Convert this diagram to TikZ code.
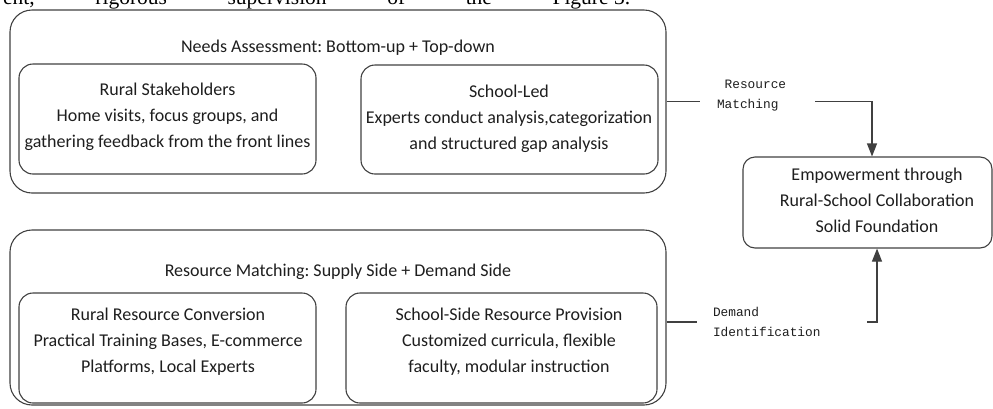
\documentclass[tikz,border=0pt]{standalone}
\usepackage{fontspec}
\setmainfont{Carlito}
\newfontfamily\labelmono{Liberation Mono}
\newfontfamily\pageserif{Liberation Serif}
\usetikzlibrary{arrows.meta}
\definecolor{boxline}{HTML}{404040}
\definecolor{ink}{HTML}{1E1E1E}
\frenchspacing

\begin{document}
\begin{tikzpicture}[x=1pt,y=-1pt,
  panel/.style={draw=boxline, line width=1.1pt, rounded corners=22pt, inner sep=0pt},
  card/.style={draw=boxline, line width=1.1pt, rounded corners=14pt, inner sep=0pt},
  body/.style={align=center, font=\fontsize{18}{26}\selectfont, text=ink, inner sep=0pt},
  tag/.style={fill=white, align=left, text=ink, font=\labelmono\fontsize{12.8}{20}\selectfont, inner ysep=2pt},
  conn/.style={draw=boxline, line width=1.1pt},
  tip/.style={-{Triangle[width=10pt,length=13pt]}}]

\useasboundingbox (0,0) rectangle (993,408);

% running text of the page above the figure
\begin{scope}
  \clip (0,0) rectangle (993,408);
  \node[anchor=base west, inner sep=0pt, text=black,
        font=\pageserif\fontsize{21.5}{24}\selectfont] (pagetext) at (3,4.5)
    {\hbox to 627pt{ent,\hfill rigorous\hfill supervision\hfill of\hfill the\hfill Figure 3.}};
\end{scope}

% needs assessment panel
\node[panel, minimum width=656pt, minimum height=183pt] (needs) at (338,101.5) {};
\node[body] (needs-title) at (338,48) {Needs Assessment: Bottom-up + Top-down};
\node[card, minimum width=297pt, minimum height=110pt] (stake) at (167.5,119) {};
\node[body] (stake-text) at (167.5,117)
  {Rural Stakeholders\\Home visits, focus groups, and\\gathering feedback from the front lines};
\node[card, minimum width=297pt, minimum height=109pt] (school) at (509.5,119.5) {};
\node[body] (school-text) at (509,119)
  {School-Led\\Experts conduct analysis,categorization\\and structured gap analysis};

% resource matching panel
\node[panel, minimum width=656pt, minimum height=175pt] (match) at (338,317.5) {};
\node[body] (match-title) at (338,272) {Resource Matching: Supply Side + Demand Side};
\node[card, minimum width=297pt, minimum height=110pt] (rural) at (167.5,348) {};
\node[body] (rural-text) at (168,342)
  {Rural Resource Conversion\\Practical Training Bases, E-commerce\\Platforms, Local Experts};
\node[card, minimum width=311pt, minimum height=110pt] (provide) at (501.5,348) {};
\node[body] (provide-text) at (509,342)
  {School-Side Resource Provision\\Customized curricula, flexible\\faculty, modular instruction};

% outcome
\node[card, rounded corners=12pt, minimum width=249pt, minimum height=91pt] (goal) at (867.5,202.5) {};
\node[body] (goal-text) at (877,200.5)
  {Empowerment through\\Rural-School Collaboration\\Solid Foundation};

% connectors
\draw[conn, tip] (needs.east) -| ([xshift=4.5pt]goal.north);
\node[tag, text width=81pt, inner xsep=17pt] (tagA) at (757.5,96) {\hphantom{x}Resource\\Matching};

\draw[conn, tip] ([yshift=-4.5pt]match.east) -| ([xshift=9.5pt]goal.south);
\node[tag, text width=138pt, inner xsep=16pt] (tagB) at (782,321.5) {Demand\\Identification};

\end{tikzpicture}
\end{document}
